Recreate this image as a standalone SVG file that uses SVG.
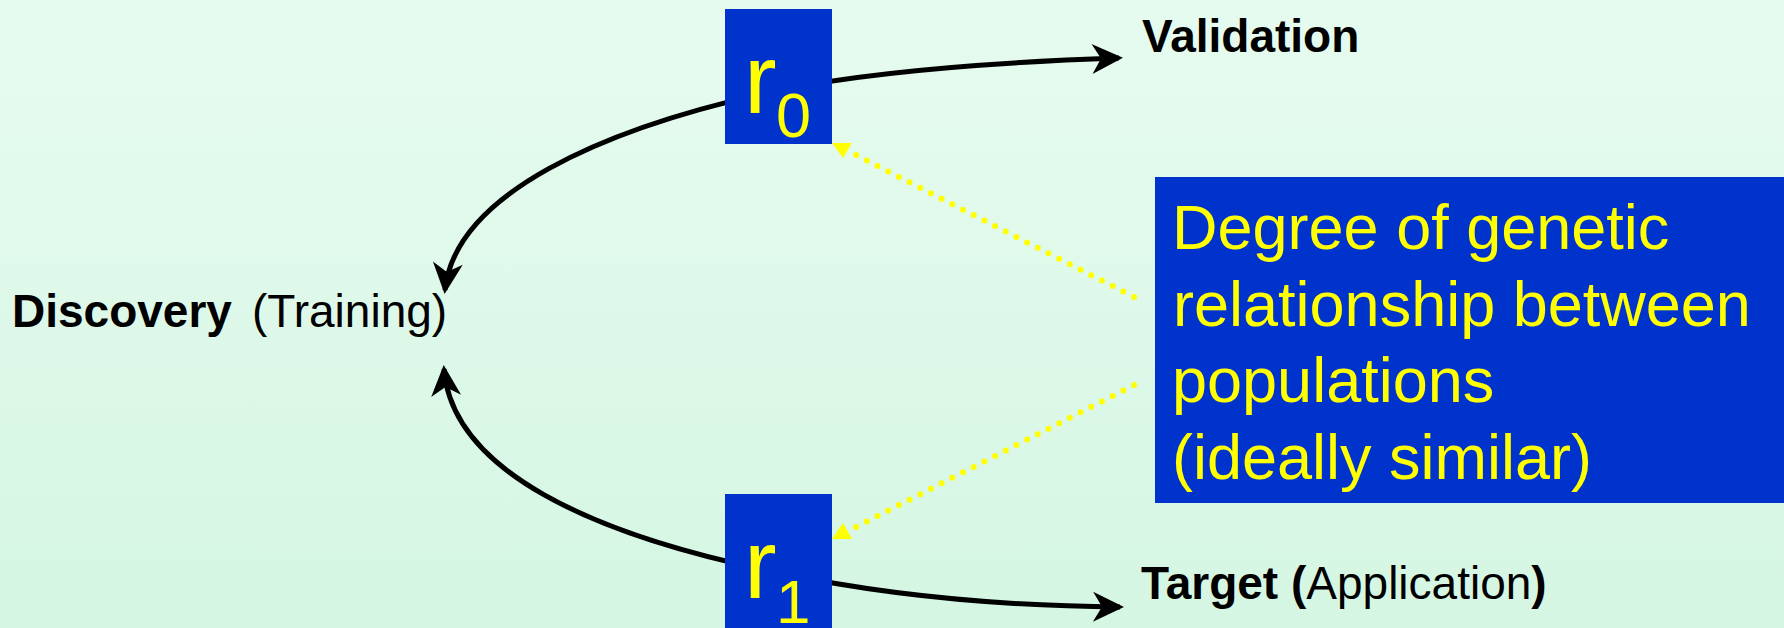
<svg xmlns="http://www.w3.org/2000/svg" width="1784" height="628" viewBox="0 0 1784 628">
  <defs>
    <linearGradient id="bg" x1="0" y1="0" x2="0" y2="1">
      <stop offset="0" stop-color="#e6fbef"/>
      <stop offset="1" stop-color="#d5f6e3"/>
    </linearGradient>
    <marker id="barb" markerUnits="userSpaceOnUse" viewBox="-30 -16 36 32" refX="0" refY="0" markerWidth="36" markerHeight="32" orient="auto-start-reverse">
      <path d="M 4 0 L -27 -15 L -18 0 L -27 15 Z" fill="#000"/>
    </marker>
    <style>
      .arc { fill: none; stroke: #000; stroke-width: 5; }
      .dots { fill: none; stroke: #ffff00; stroke-width: 6; stroke-linecap: round; stroke-dasharray: 0 12; }
      .tri { fill: #ffff00; }
      .box { fill: #0033cc; }
      .sym { font-family: "Liberation Sans", Arial, sans-serif; fill: #ffff00; }
      .lbl { font-family: "Liberation Sans", Arial, sans-serif; font-size: 46px; fill: #000; }
      .b { font-weight: bold; }
      .note { font-family: "Liberation Sans", Arial, sans-serif; font-size: 63px; fill: #ffff00; }
    </style>
  </defs>

  <rect x="0" y="0" width="1784" height="628" fill="url(#bg)"/>

  <!-- arcs and dotted pointers -->
  <g id="connectors">
    <path class="arc" d="M 445 290 C 455 195 600 128 780 90 C 880 70 1000 62 1119 58" marker-start="url(#barb)" marker-end="url(#barb)"/>
    <path class="arc" d="M 444 369 C 452 470 590 535 780 573 C 880 594 1000 606 1120 607" marker-start="url(#barb)" marker-end="url(#barb)"/>
    <line class="dots" x1="1134" y1="297" x2="856" y2="155"/>
    <polygon class="tri" points="832,143 852,143 843,158"/>
    <line class="dots" x1="1134" y1="385" x2="856" y2="527"/>
    <polygon class="tri" points="832,539 852,539 843,523"/>
  </g>

  <g id="r0">
    <rect class="box" x="725" y="9" width="107" height="135"/>
    <text class="sym"><tspan x="744" y="113" font-size="98">r</tspan><tspan x="776" y="137" font-size="63">0</tspan></text>
  </g>

  <g id="r1">
    <rect class="box" x="725" y="494" width="107" height="134"/>
    <text class="sym"><tspan x="744" y="598" font-size="98">r</tspan><tspan x="776" y="623" font-size="62">1</tspan></text>
  </g>

  <g id="validation">
    <text class="lbl b" x="1142" y="52">Validation</text>
  </g>

  <g id="discovery">
    <text class="lbl" y="327"><tspan class="b" x="12">Discovery</tspan><tspan x="252">(Training)</tspan></text>
  </g>

  <g id="target">
    <text class="lbl" x="1141" y="599"><tspan class="b">Target (</tspan>Application<tspan class="b">)</tspan></text>
  </g>

  <g id="relationship">
    <rect class="box" x="1155" y="177" width="629" height="326"/>
    <text class="note" x="1172">
      <tspan x="1172" y="249">Degree of genetic</tspan>
      <tspan x="1173" y="326">relationship between</tspan>
      <tspan x="1172" y="402">populations</tspan>
      <tspan x="1172" y="479">(ideally similar)</tspan>
    </text>
  </g>
</svg>
